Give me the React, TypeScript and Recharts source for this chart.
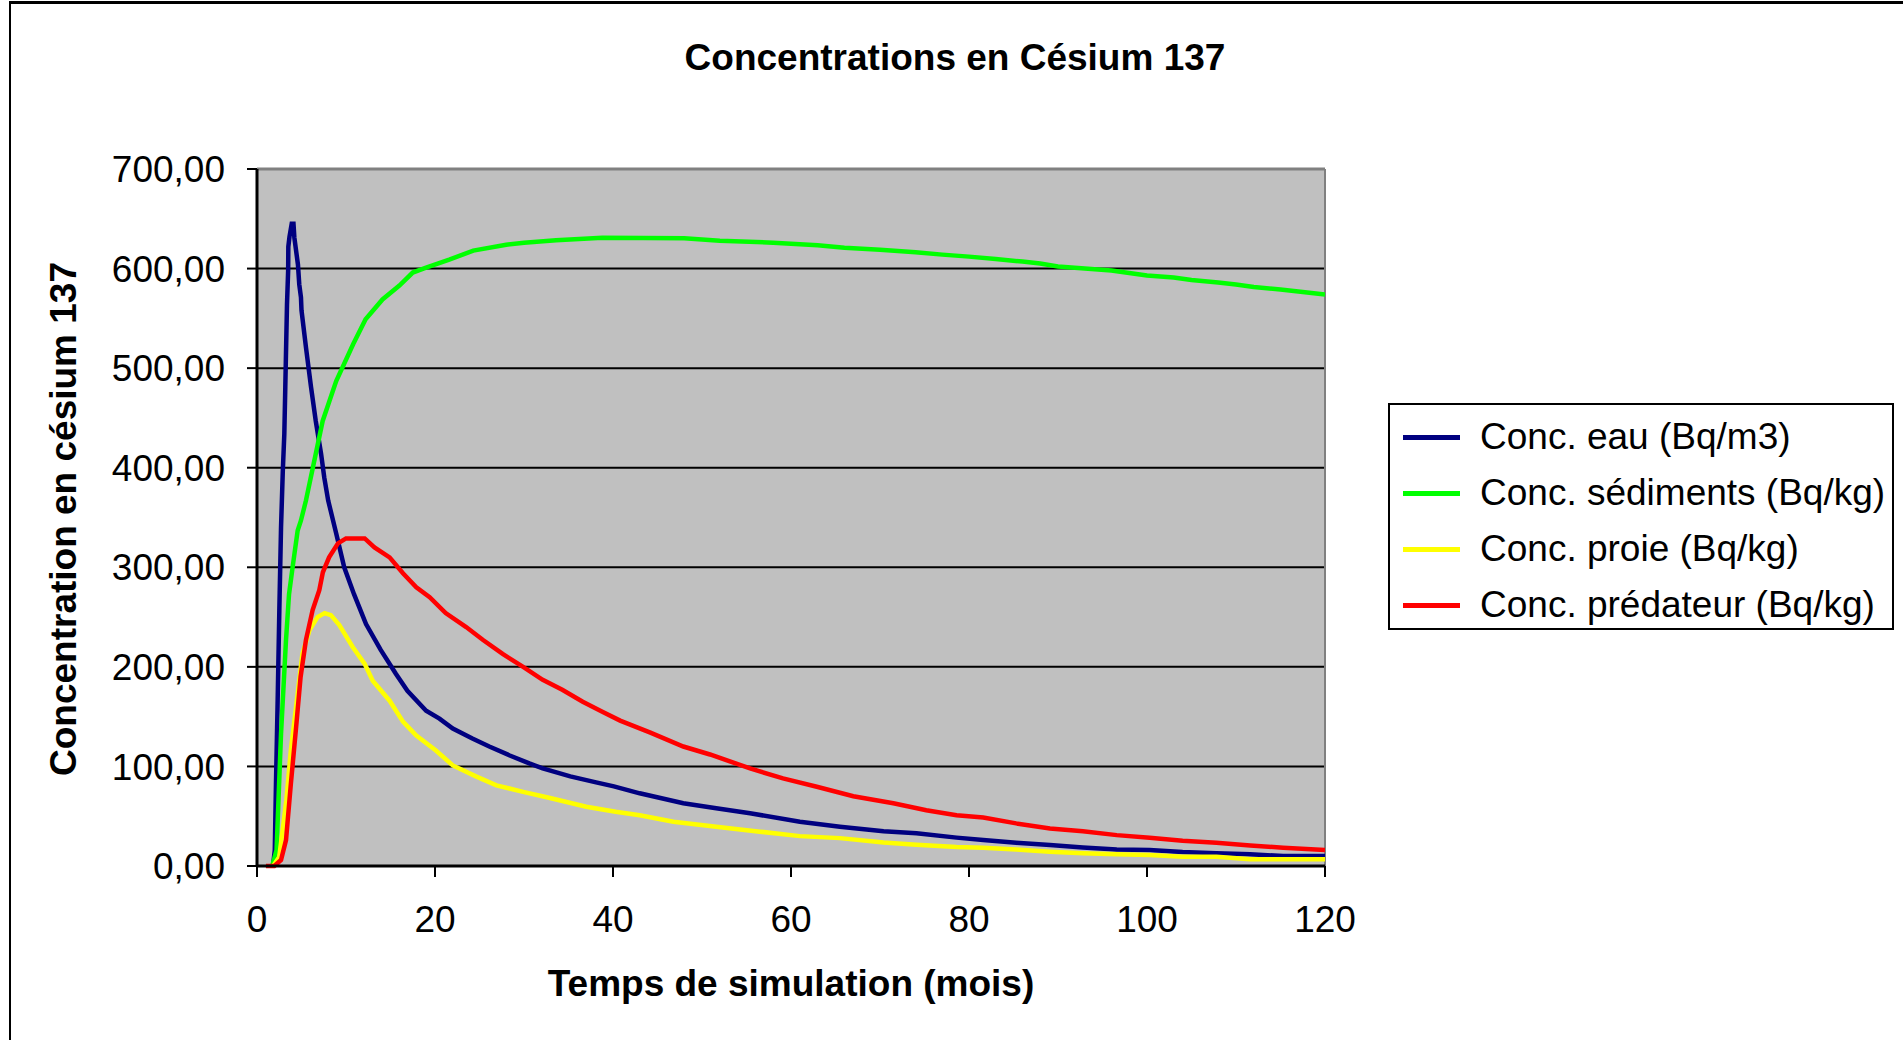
import React from 'react';
import { LineChart, Line, XAxis, YAxis, CartesianGrid, Legend, ReferenceLine } from 'recharts';

// [mois, valeur]
const concEau: [number, number][] = [
  [1.8, 0], [2.0, 16], [2.13, 82], [2.32, 166], [2.51, 257], [2.7, 340], [2.9, 397], [3.07, 434],
  [3.18, 481], [3.37, 564], [3.5, 598], [3.52, 622], [3.65, 632], [3.9, 645], [4.1, 645], [4.2, 631],
  [4.6, 604], [4.75, 584], [4.94, 571], [5.0, 558], [5.5, 521], [6.07, 481], [6.6, 447], [7.2, 414],
  [7.56, 390], [8.0, 367], [8.9, 334], [9.8, 300], [10.9, 273], [12.25, 243], [13.9, 217], [15.6, 193],
  [16.9, 176], [19, 156], [20.5, 148], [22, 138], [24.2, 128], [26.1, 120], [28.4, 111], [30.6, 103],
  [32.1, 98], [35.2, 90], [38.1, 84], [40.1, 80], [43, 73], [47.9, 63], [51.6, 58], [55.4, 53],
  [61, 44.5], [65.5, 39.5], [70.4, 35], [74.1, 33], [78.6, 28.5], [81.6, 26], [85.3, 23.3], [89.1, 21],
  [92.8, 18.6], [96.6, 16.6], [100.3, 16], [104, 14], [107.8, 12.7], [111.6, 11.7], [115.3, 10], [120, 10],
];

const concSediments: [number, number][] = [
  [1.7, 0], [2.2, 16], [2.7, 133], [3.26, 227], [3.6, 273], [4.0, 300], [4.57, 337], [4.94, 347],
  [5.5, 367], [7.38, 447], [8.9, 487], [10.8, 524], [12.2, 549], [14.1, 569], [16.0, 583], [17.5, 596],
  [19.0, 601], [21.6, 609], [24.3, 618], [28.0, 624], [30, 626], [33.6, 628.5], [38.8, 631], [48, 630.5],
  [52, 628], [58, 626], [63, 623.5], [66, 621], [70, 619], [74, 616.5], [77, 614], [80, 612],
  [83, 609.5], [86, 607], [88, 605], [90, 602], [93, 600], [96, 598], [98, 595.5], [100, 593],
  [103, 591], [105, 588.5], [108, 586], [110, 584], [112, 581.5], [115, 579], [117, 577], [120, 574],
];

const concProie: [number, number][] = [
  [1.8, 0], [2.5, 9], [3.3, 66], [3.8, 116], [4.57, 173], [5.1, 213], [5.9, 237], [6.8, 250],
  [7.6, 254], [8.3, 252], [9.25, 242], [10.75, 220], [12.1, 203], [13, 186], [14.9, 166], [16.4, 145],
  [17.9, 131], [20.1, 116], [22, 101], [24.6, 90], [26.9, 81], [29.9, 74.5], [32.8, 68.5], [37, 59.5],
  [40.3, 54.5], [43, 51], [46.8, 44.5], [51.6, 39.5], [56.5, 34.5], [61, 30], [65.5, 28], [70.4, 23.5],
  [74.1, 21.3], [78.6, 19], [81.6, 18.3], [85.3, 16.6], [89.1, 14.3], [92.8, 12.7], [96.6, 11.7], [100.3, 11],
  [104, 9.4], [107.8, 9.4], [111.6, 6.7], [120, 6.7],
];

const concPredateur: [number, number][] = [
  [1.0, 0], [1.95, 0], [2.7, 6], [3.26, 26], [3.8, 82], [4.4, 140], [4.9, 190], [5.5, 227],
  [6.25, 257], [7.0, 277], [7.4, 295], [8.1, 310], [9.1, 324], [10.0, 329], [12.1, 329], [13.2, 320],
  [14.9, 310], [16.4, 294], [17.9, 280], [19.4, 270], [21.2, 254], [23.5, 240], [25.4, 227], [27.6, 213],
  [29.9, 200], [32.1, 187], [34.3, 177], [36.6, 165], [38.8, 155], [40.8, 146], [44.2, 134], [47.9, 120],
  [50.9, 112], [55.4, 98], [59.1, 88], [62.9, 79.6], [67, 70], [71.5, 63], [75.2, 56], [78.6, 51],
  [81.6, 48.7], [85.3, 42.8], [89.1, 37.7], [92.8, 35], [96.6, 31], [100.3, 28.3], [104, 25.3], [107.8, 23.3],
  [111.6, 20.6], [115.3, 18.3], [120, 16],
];

const xTicks = [0, 20, 40, 60, 80, 100, 120];
const yTicks = [0, 100, 200, 300, 400, 500, 600, 700];

const toRows = (pts: [number, number][]) => pts.map(([t, v]) => ({ t, v }));

const series = [
  { name: 'Conc. eau (Bq/m3)', color: '#000080', data: toRows(concEau) },
  { name: 'Conc. sédiments (Bq/kg)', color: '#00FF00', data: toRows(concSediments) },
  { name: 'Conc. proie (Bq/kg)', color: '#FFFF00', data: toRows(concProie) },
  { name: 'Conc. prédateur (Bq/kg)', color: '#FF0000', data: toRows(concPredateur) },
];

const FONT = '"Liberation Sans", Arial, sans-serif';
const fmt = (v: number) => v.toFixed(2).replace('.', ',');

const LegendBox = () => (
  <div
    style={{
      width: 506,
      height: 227,
      boxSizing: 'border-box',
      border: '2px solid #000',
      background: '#fff',
      paddingTop: 4,
      fontFamily: FONT,
      fontSize: 37,
      color: '#000',
    }}
  >
    {series.map((s) => (
      <div key={s.name} style={{ height: 56, display: 'flex', alignItems: 'center' }}>
        <div style={{ width: 57, height: 5, background: s.color, marginLeft: 13, marginRight: 20 }} />
        <span style={{ whiteSpace: 'nowrap' }}>{s.name}</span>
      </div>
    ))}
  </div>
);

export default function App() {
  return (
    <div style={{ position: 'absolute', left: 0, top: 0, width: 1903, height: 1040, overflow: 'hidden', background: '#fff' }}>
      <div
        style={{
          position: 'absolute',
          left: 9,
          top: 1,
          width: 1894,
          height: 1039,
          borderTop: '3px solid #000',
          borderLeft: '2px solid #000',
          boxSizing: 'border-box',
        }}
      />
      <div style={{ position: 'absolute', left: 0, top: 0 }}>
        <LineChart
          width={1903}
          height={1040}
          margin={{ top: 169, right: 578, bottom: 74, left: 107 }}
          style={{ fontFamily: FONT }}
        >
          <CartesianGrid vertical={false} fill="#C0C0C0" stroke="#000" strokeWidth={2} fillOpacity={1} />
          <XAxis
            dataKey="t"
            type="number"
            domain={[0, 120]}
            ticks={xTicks}
            allowDataOverflow
            height={100}
            tick={{ fill: '#000', fontSize: 37, fontFamily: FONT }}
            tickSize={11}
            tickMargin={29}
            tickLine={{ stroke: '#000', strokeWidth: 2 }}
            axisLine={{ stroke: '#000', strokeWidth: 3 }}
          />
          <YAxis
            type="number"
            domain={[0, 700]}
            ticks={yTicks}
            width={150}
            tickFormatter={fmt}
            tick={{ fill: '#000', fontSize: 37, fontFamily: FONT }}
            tickSize={10}
            tickMargin={22}
            tickLine={{ stroke: '#000', strokeWidth: 2 }}
            axisLine={{ stroke: '#000', strokeWidth: 3 }}
          />
          <ReferenceLine y={700} stroke="#808080" strokeWidth={3} />
          <ReferenceLine x={120} stroke="#808080" strokeWidth={2} />
          {series.map((s) => (
            <Line
              key={s.name}
              data={s.data}
              dataKey="v"
              name={s.name}
              type="linear"
              stroke={s.color}
              strokeWidth={4.5}
              dot={false}
              activeDot={false}
              isAnimationActive={false}
            />
          ))}
          <Legend
            layout="horizontal"
            verticalAlign="middle"
            align="center"
            content={() => <LegendBox />}
            wrapperStyle={{ left: 1388, top: 403, width: 506, height: 227 }}
          />
          <text x={955} y={57} dy="0.35em" textAnchor="middle" fontFamily={FONT} fontSize={37} fontWeight="bold" fill="#000">
            Concentrations en Césium 137
          </text>
          <text x={791} y={983} dy="0.35em" textAnchor="middle" fontFamily={FONT} fontSize={37} fontWeight="bold" fill="#000">
            Temps de simulation (mois)
          </text>
          <text
            x={63}
            y={519}
            dy="0.35em"
            textAnchor="middle"
            fontFamily={FONT}
            fontSize={37}
            fontWeight="bold"
            fill="#000"
            transform="rotate(-90, 63, 519)"
          >
            Concentration en césium 137
          </text>
        </LineChart>
      </div>
    </div>
  );
}
